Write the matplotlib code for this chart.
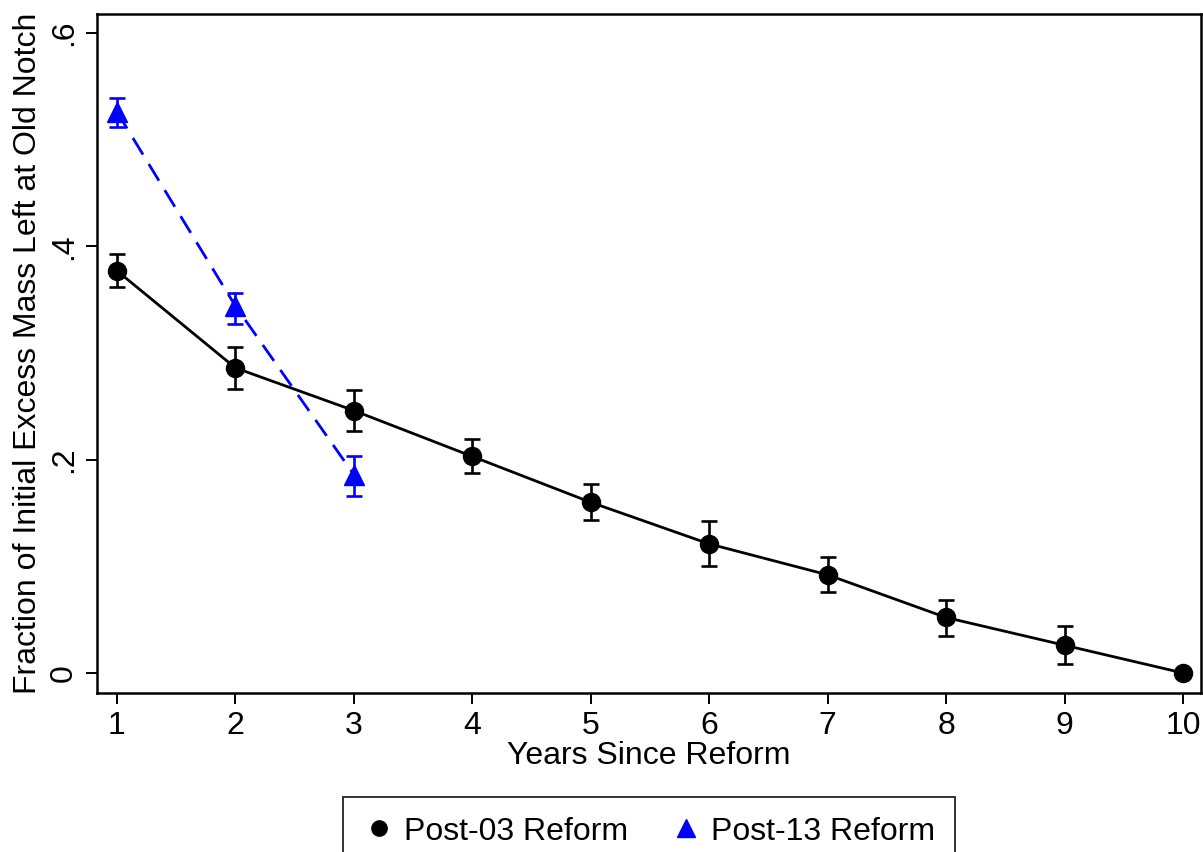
import matplotlib.pyplot as plt
from matplotlib.lines import Line2D

plt.rcParams['font.family'] = ['Liberation Sans', 'DejaVu Sans']

# Post-03 reform (black circles)
years_03 = [1, 2, 3, 4, 5, 6, 7, 8, 9, 10]
frac_03 = [0.377, 0.286, 0.246, 0.203, 0.160, 0.121, 0.092, 0.052, 0.026, 0.0]
lo_03 = [0.362, 0.266, 0.227, 0.187, 0.143, 0.100, 0.076, 0.035, 0.008, 0.0]
hi_03 = [0.393, 0.306, 0.265, 0.219, 0.177, 0.142, 0.109, 0.068, 0.044, 0.0]

# Post-13 reform (blue triangles)
years_13 = [1, 2, 3]
frac_13 = [0.526, 0.344, 0.186]
lo_13 = [0.512, 0.327, 0.166]
hi_13 = [0.539, 0.356, 0.203]

yticks = [0, 0.2, 0.4, 0.6]
ytick_labels = ['0', '.2', '.4', '.6']

fig = plt.figure(figsize=(12.03, 8.52), dpi=100)
ax = fig.add_axes([0.0806, 0.1866, 0.9177, 0.797])

err_03 = [[f - l for f, l in zip(frac_03, lo_03)], [h - f for f, h in zip(frac_03, hi_03)]]
err_13 = [[f - l for f, l in zip(frac_13, lo_13)], [h - f for f, h in zip(frac_13, hi_13)]]

ax.errorbar(years_03[:-1], frac_03[:-1], yerr=[e[:-1] for e in err_03], fmt='none',
            ecolor='black', elinewidth=1.9, capsize=6, capthick=1.9, zorder=2)
ax.plot(years_03, frac_03, color='black', lw=2.0, marker='o', markersize=13, zorder=3)

ax.errorbar(years_13, frac_13, yerr=err_13, fmt='none',
            ecolor='blue', elinewidth=1.9, capsize=6, capthick=1.9, zorder=2)
ax.plot(years_13, frac_13, color='blue', lw=2.0, ls=(0, (7, 4)), marker='^',
        markersize=14, zorder=3)

ax.set_xlim(0.831, 10.152)
ax.set_ylim(-0.0188, 0.6178)
ax.set_xticks(years_03)
ax.set_yticks(yticks)
ax.set_yticklabels(ytick_labels, rotation=90, va='center')
ax.tick_params(direction='out', length=8, width=1.4, labelsize=23, pad=5)
for s in ax.spines.values():
    s.set_linewidth(1.8)

ax.set_xlabel('Years Since Reform', fontsize=23, labelpad=0)
ax.set_ylabel('Fraction of Initial Excess Mass Left at Old Notch', fontsize=23, labelpad=4)

handles = [Line2D([], [], ls='none', marker='o', color='black', markersize=11),
           Line2D([], [], ls='none', marker='^', color='blue', markersize=13)]
leg = fig.legend(handles, ['Post-03 Reform', 'Post-13 Reform'], ncol=2,
                 loc='upper center', bbox_to_anchor=(0.5395, 0.064), bbox_transform=fig.transFigure,
                 fontsize=23, frameon=True, fancybox=False, edgecolor='black',
                 handletextpad=0.3, columnspacing=1.3, handlelength=1.0, borderpad=0.6,
                 borderaxespad=0)
leg.get_frame().set_linewidth(1.4)

fig.savefig('out.png', dpi=100)
